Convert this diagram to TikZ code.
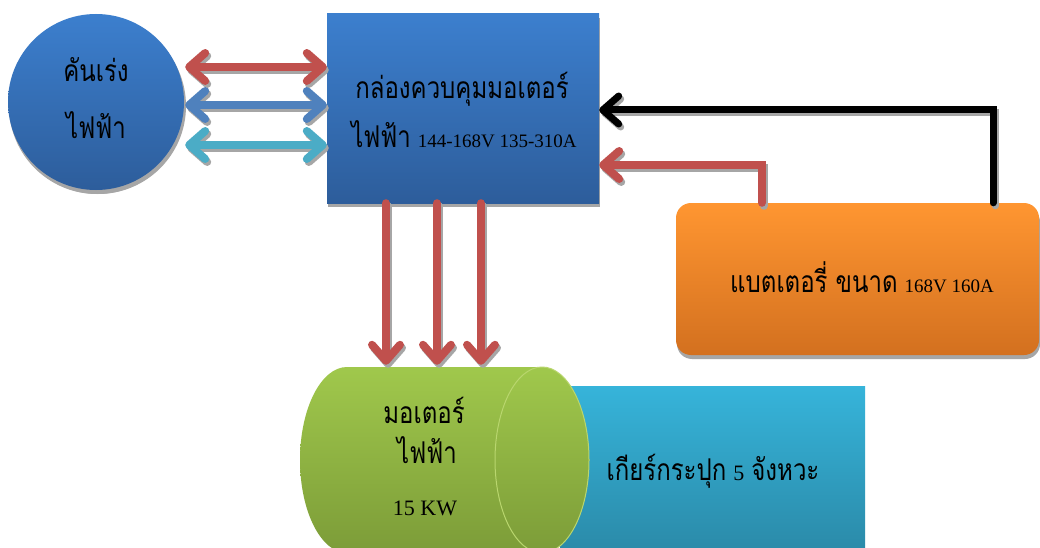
\documentclass[tikz,border=0pt]{standalone}
\usepackage{fontspec}
\setmainfont{Liberation Serif}
\newfontfamily\thai[Script=Thai,FakeStretch=0.8]{Loma}
\usetikzlibrary{arrows.meta,shadows}

\definecolor{shadowgray}{HTML}{A6A6A6}
\definecolor{linkred}{HTML}{C0504D}
\definecolor{linkblue}{HTML}{4F81BD}
\definecolor{linkcyan}{HTML}{4BACC6}
\definecolor{blueTop}{HTML}{3C7FCE}
\definecolor{blueBot}{HTML}{2D5D9B}
\definecolor{orangeTop}{HTML}{FF9631}
\definecolor{orangeBot}{HTML}{D3701F}
\definecolor{greenTop}{HTML}{A0C84C}
\definecolor{greenBot}{HTML}{7C9C38}
\definecolor{greenEdge}{HTML}{B9D66E}
\definecolor{tealTop}{HTML}{36B4DA}
\definecolor{tealBot}{HTML}{2A88A6}

\newcommand\thaitext[1]{{\thai\fontsize{30}{34}\selectfont #1}}
\newcommand\numtext[2]{{\fontsize{#1}{#1}\selectfont #2}}
\newcommand\gap{\hspace{7pt}}

\tikzset{
  boxshadow/.style={drop shadow={shadow xshift=1pt,shadow yshift=-4pt,fill=shadowgray,opacity=1}},
  bluefill/.style={top color=blueTop,bottom color=blueBot,boxshadow,inner sep=0pt},
  label/.style={anchor=base,inner sep=0pt,text=black},
  thaibig/.style={font=\thai\fontsize{30}{34}\selectfont},
  fatline/.style={line width=8pt,line cap=round},
  onehead/.style={fatline,-{Straight Barb[round,length=16pt,width=28pt]}},
  twohead/.style={fatline,{Straight Barb[round,length=16pt,width=28pt]}-{Straight Barb[round,length=16pt,width=28pt]}},
}

% each connector is drawn twice: a grey offset copy, then the coloured one
\newcommand\shadowpath[2]{%
  \draw[#1,draw=shadowgray,transform canvas={shift={(2pt,-3pt)}}] #2;
  \draw[#1] #2;}

\begin{document}
\begin{tikzpicture}[x=1pt,y=-1pt]
\useasboundingbox (0,0) rectangle (1040,548);
\fill[white] (0,0) rectangle (1040,548);

% accelerator pedal
\node[circle,bluefill,minimum size=176pt,
      drop shadow={shadow xshift=2pt,shadow yshift=-4pt,fill=shadowgray,opacity=1}]
      (pedal) at (96,102) {};
\node[label,thaibig] (pedalA) at (96,82) {คันเร่ง};
\node[label,thaibig] (pedalB) at (96,139) {ไฟฟ้า};

% motor controller
\node[rectangle,bluefill,minimum width=272pt,minimum height=189pt] (ctrl) at (463,108.5) {};
\node[label,thaibig] (ctrlA) at (462,99) {กล่องควบคุมมอเตอร์};
\node[label] (ctrlB) at (464,148) {\thaitext{ไฟฟ้า}\gap\numtext{19}{144-168V 135-310A}};

% battery
\node[rectangle,rounded corners=15pt,top color=orangeTop,bottom color=orangeBot,
      boxshadow,minimum width=363pt,minimum height=152pt] (battery) at (857.5,279) {};
\node[label] (battText) at (862,292) {\thaitext{แบตเตอรี่ ขนาด}\gap\numtext{19}{168V 160A}};

% gearbox
\node[rectangle,top color=tealTop,bottom color=tealBot,minimum width=305pt,
      minimum height=174pt,inner sep=0pt] (gear) at (712.5,473) {};
\node[label] (gearText) at (713,480) {\thaitext{เกียร์กระปุก}\gap\numtext{22}{5}\gap\thaitext{จังหวะ}};

% electric motor (horizontal cylinder)
\shade[top color=greenTop,bottom color=greenBot] (347,460) ellipse[x radius=47,y radius=93];
\shade[top color=greenTop,bottom color=greenBot] (347,367) rectangle (542,553);
\shade[top color=greenTop,bottom color=greenBot] (542,460) ellipse[x radius=47,y radius=93];
\draw[greenEdge,line width=1pt] (542,460) ellipse[x radius=47,y radius=93];
\node[minimum width=290pt,minimum height=186pt,inner sep=0pt] (motor) at (445,460) {};
\node[label,thaibig] (motorA) at (424,423) {มอเตอร์};
\node[label,thaibig] (motorB) at (427,463) {ไฟฟ้า};
\node[label,font=\fontsize{22}{26}\selectfont] (motorC) at (425,515) {15 KW};

% pedal <-> controller signals
\shadowpath{twohead,linkred}{([xshift=1pt]pedal.east |- 0,67) -- (ctrl.west |- 0,67)}
\shadowpath{twohead,linkblue}{([xshift=1pt]pedal.east |- 0,105) -- (ctrl.west |- 0,105)}
\shadowpath{twohead,linkcyan}{([xshift=1pt]pedal.east |- 0,145) -- (ctrl.west |- 0,145)}

% battery -> controller
\shadowpath{onehead,black,line width=7pt}{(battery.north -| 993,0) |- (ctrl.east |- 0,110)}
\shadowpath{onehead,linkred}{(battery.north -| 762,0) |- (ctrl.east |- 0,165)}

% controller -> motor phases
\shadowpath{onehead,linkred}{(ctrl.south -| 386,0) -- ([yshift=2pt]motor.north -| 386,0)}
\shadowpath{onehead,linkred}{(ctrl.south -| 437,0) -- ([yshift=2pt]motor.north -| 437,0)}
\shadowpath{onehead,linkred}{(ctrl.south -| 481,0) -- ([yshift=2pt]motor.north -| 481,0)}
\end{tikzpicture}
\end{document}
